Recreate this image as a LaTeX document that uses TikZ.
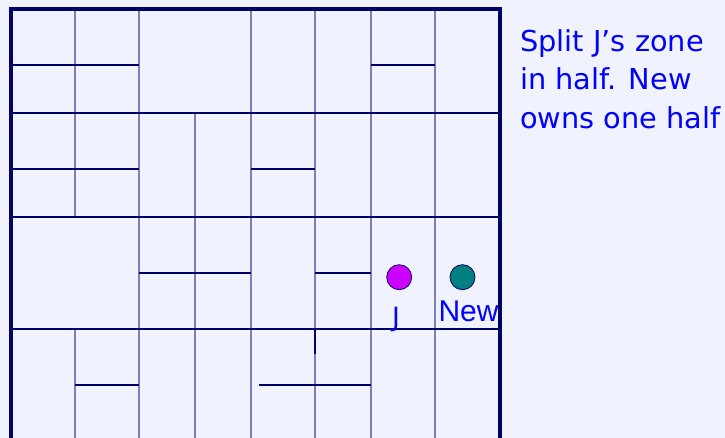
\documentclass[tikz,border=0pt]{standalone}
\usepackage{fontspec}
\newfontfamily\labelfont{DejaVu Sans}
\newfontfamily\arialfont{Liberation Sans}
\definecolor{bg}{HTML}{F0F3FE}
\definecolor{navy}{HTML}{000066}
\definecolor{vline}{HTML}{7E7FB8}
\definecolor{jfill}{HTML}{CC00FF}
\definecolor{newfill}{HTML}{007F80}
\definecolor{txt}{HTML}{0000FF}
\begin{document}
\begin{tikzpicture}[x=1pt,y=-1pt,
  vl/.style={vline,line width=1.9pt},
  hl/.style={navy,line width=1.3pt},
  peer/.style={circle,draw=navy,line width=0.8pt,minimum size=25pt,inner sep=0pt},
  lbl/.style={text=txt,inner sep=0pt,anchor=base west}]
\fill[bg] (0,0) rectangle (725,438);
\useasboundingbox (0,0) rectangle (725,438);
% vertical zone boundaries
\draw[vl] (75,9.5)--(75,217) (75,329)--(75,438);
\draw[vl] (139,9.5)--(139,438);
\draw[vl] (195,113)--(195,438);
\draw[vl] (251,7)--(251,438);
\draw[vl] (315,9.5)--(315,438);
\draw[vl] (371,9.5)--(371,438);
\draw[vl] (435,9.5)--(435,438);
% horizontal zone boundaries
\draw[hl] (11,65)--(139,65) (371,65)--(435,65);
\draw[hl] (11,113)--(499,113);
\draw[hl] (11,169)--(139,169) (251,169)--(315,169);
\draw[hl] (11,217)--(499,217);
\draw[hl] (139,273)--(251,273) (315,273)--(371,273);
\draw[hl] (11,329)--(499,329);
\draw[hl] (75,385)--(139,385) (259,385)--(371,385);
\draw[navy,line width=2pt] (315,329)--(315,354);
% peers
\node[peer,fill=jfill] (j) at (399.2,277.2) {};
\node[peer,fill=newfill] (new) at (462.5,277.2) {};
\node[lbl,anchor=base,font=\labelfont\fontsize{26.5}{26.5}\selectfont] (jl) at (396,326) {J};
\node[lbl,font=\arialfont\fontsize{30}{30}\selectfont] (nl) at (438.3,321.7) {New};
% outer border
\draw[navy,line width=4pt,line join=miter] (11,438)--(11,9.5)--(499.5,9.5)--(499.5,438);
% caption
\node[lbl,font=\labelfont\fontsize{28.8}{38.3}\selectfont] (t1) at (520,51.7) {Split J’s zone};
\node[lbl,font=\labelfont\fontsize{28.8}{38.3}\selectfont] (t2) at (520,90) {in half. New};
\node[lbl,font=\labelfont\fontsize{28.8}{38.3}\selectfont] (t3) at (520,128.3) {owns one half};
\end{tikzpicture}
\end{document}
